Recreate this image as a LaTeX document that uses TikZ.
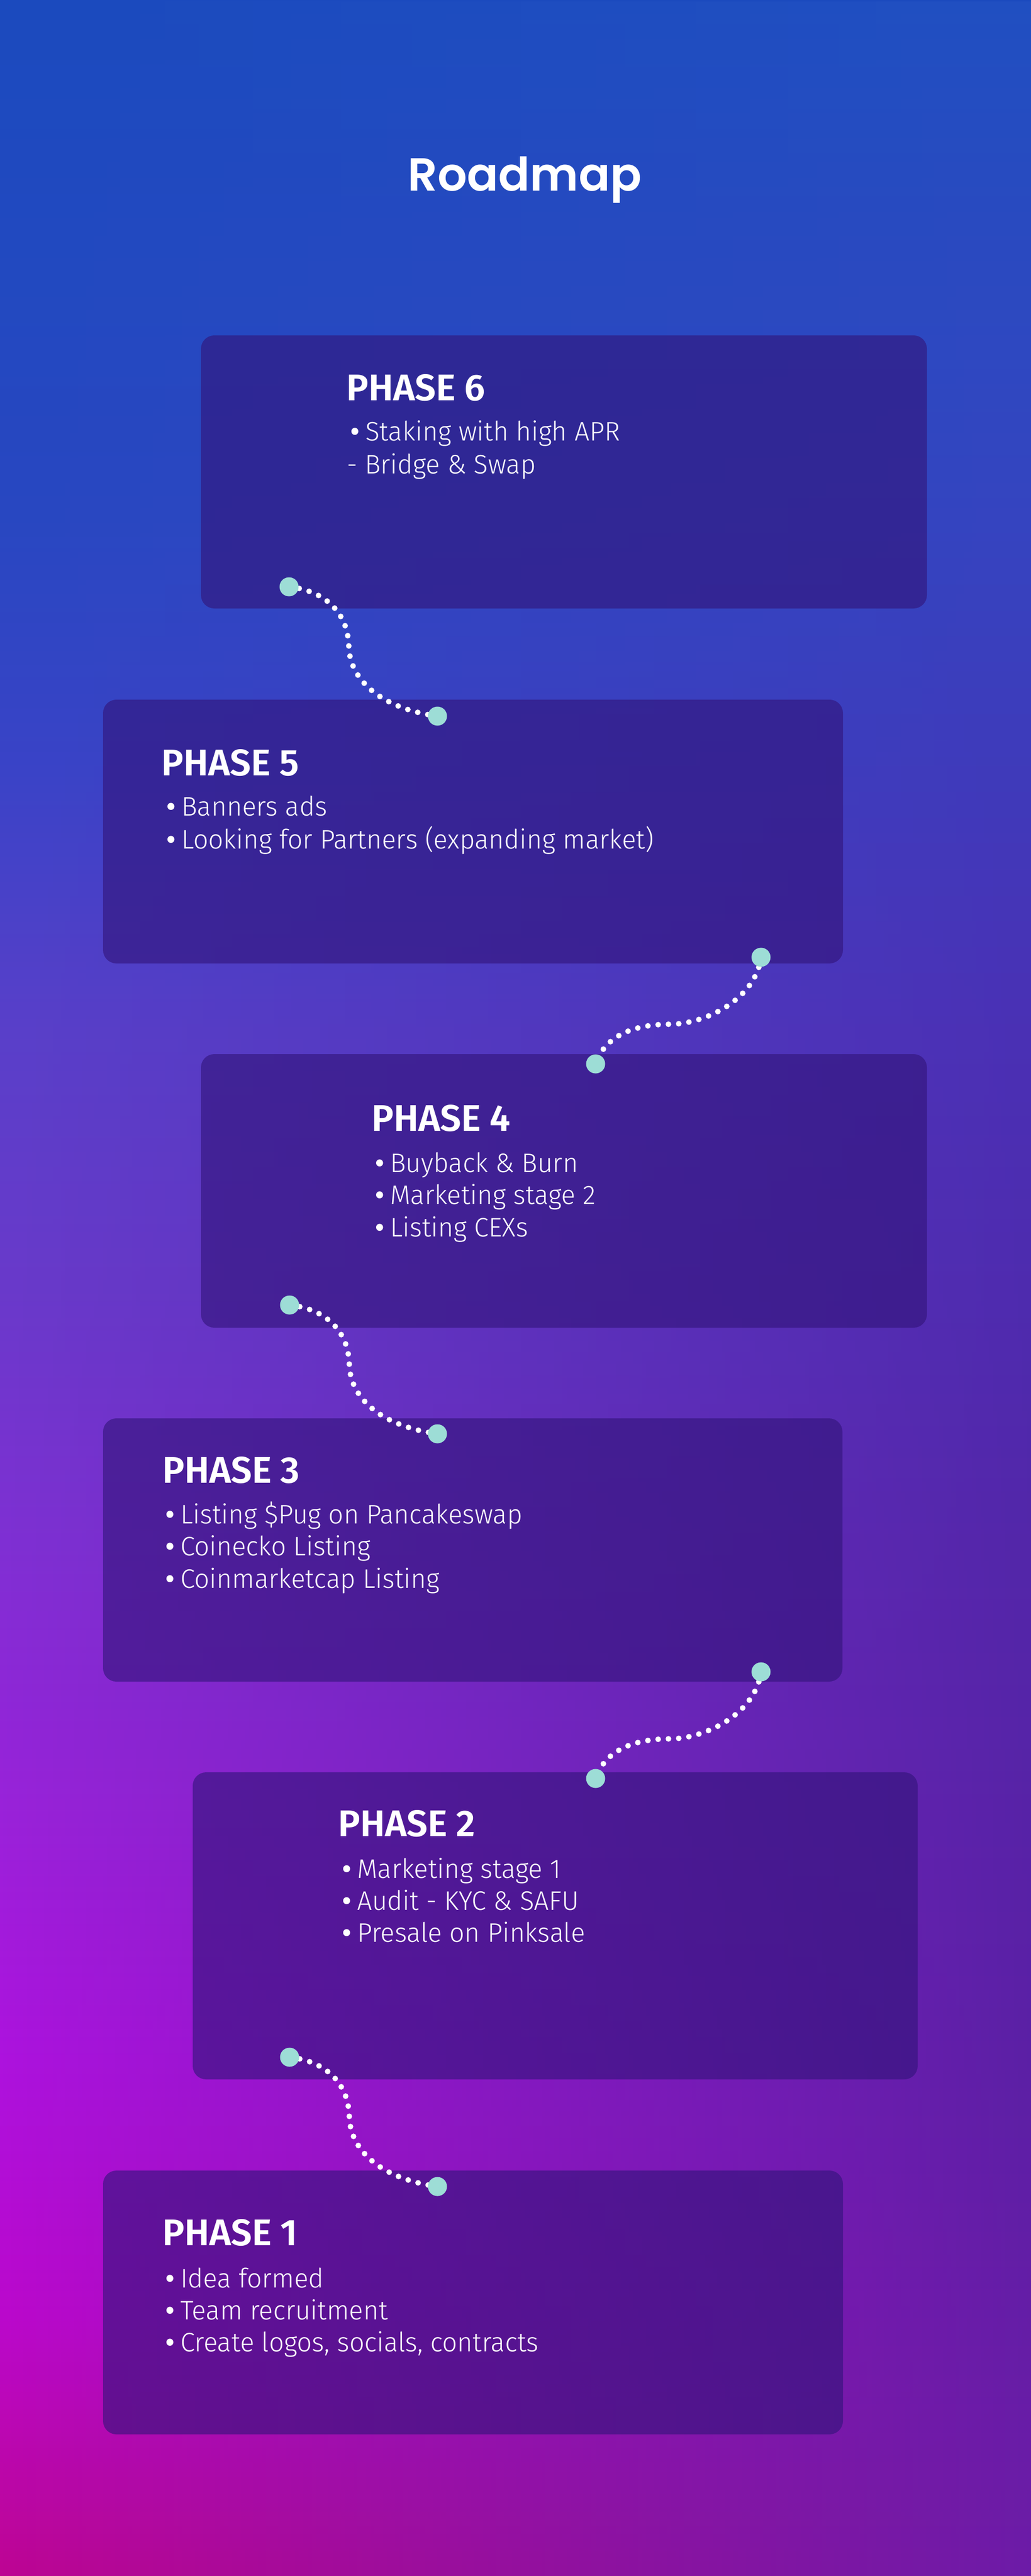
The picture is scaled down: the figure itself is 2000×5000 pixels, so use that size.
\documentclass[tikz,border=0pt]{standalone}
\usepackage{fontspec}
\setmainfont{Fira Sans}[UprightFont={* Light}, BoldFont={* SemiBold}]
\newfontfamily\itemfont{Fira Sans Light}[FakeStretch=0.985]
\newfontfamily\titlefont{Poppins}[BoldFont={* SemiBold}]
\usetikzlibrary{fadings}
\definecolor{boxc}{RGB}{50,20,122}
\definecolor{tealdot}{HTML}{9DDDD6}
% left edge colours
\definecolor{La}{HTML}{1B4ABE}
\definecolor{Lb}{HTML}{2848C2}
\definecolor{Lc}{HTML}{3A44C8}
\definecolor{Ld}{HTML}{5A40CA}
\definecolor{Le}{HTML}{6A3ACB}
\definecolor{Lf}{HTML}{8030D4}
\definecolor{Lg}{HTML}{9A22DA}
\definecolor{Lh}{HTML}{AE12DE}
\definecolor{Li}{HTML}{BC08CC}
\definecolor{Lj}{HTML}{BE0592}
% right edge colours
\definecolor{Ra}{HTML}{2150C2}
\definecolor{Rb}{HTML}{3644C0}
\definecolor{Rc}{HTML}{4A30B4}
\definecolor{Rd}{HTML}{5226A8}
\definecolor{Re}{HTML}{5A20A4}
\definecolor{Rf}{HTML}{6C1CA8}
\pgfdeclareverticalshading{bgleft}{100bp}{color(0bp)=(Lj); color(25bp)=(Lj); color(30bp)=(Li); color(35bp)=(Lh); color(40bp)=(Lg); color(45bp)=(Lf); color(50bp)=(Le); color(55bp)=(Ld); color(60bp)=(Lc); color(65bp)=(Lb); color(75bp)=(La); color(100bp)=(La)}
\pgfdeclareverticalshading{bgright}{100bp}{color(0bp)=(Rf); color(25bp)=(Rf); color(35bp)=(Re); color(45bp)=(Rd); color(55bp)=(Rc); color(65bp)=(Rb); color(75bp)=(Ra); color(100bp)=(Ra)}
\tikzfading[name=fadeR, left color=transparent!100, right color=transparent!0]
\pgfdeclarelayer{bglayer}
\pgfdeclarelayer{midlayer}
\pgfsetlayers{bglayer,midlayer,main}
\tikzset{
  phasebox/.style={fill=boxc, fill opacity=0.61, rounded corners=26pt, inner sep=0pt, outer sep=0pt, draw=none},
  tdot/.style={circle, fill=tealdot, minimum size=37pt, inner sep=0pt, draw=none},
  dotline/.style={draw=white, line width=11pt, line cap=round, dash pattern=on 0pt off 20pt},
  head/.style={anchor=base west, inner sep=0pt, text=white, font=\bfseries\fontsize{72}{72}\selectfont},
  item/.style={anchor=base west, inner sep=0pt, text=white, font=\itemfont\fontsize{52}{52}\selectfont},
  ttl/.style={anchor=base, inner sep=0pt, text=white, font=\titlefont\bfseries\fontsize{90}{90}\selectfont}
}
\newcommand{\bul}{\makebox[29pt][l]{\bfseries •}}
\newcommand{\dsh}{\makebox[35pt][l]{-}}
\begin{document}
\begin{tikzpicture}[x=1pt,y=-1pt]
\useasboundingbox (0,0) rectangle (2000,5000);
\begin{pgfonlayer}{bglayer}
\shade[shading=bgleft] (-20,0) rectangle (2020,5000);
\shade[shading=bgright, path fading=fadeR] (-20,-20) rectangle (2040,5020);
\node[phasebox, minimum width=1409pt, minimum height=530pt] (b6) at (1094.5,916) {};
\node[phasebox, minimum width=1436pt, minimum height=512pt] (b5) at (918,1614) {};
\node[phasebox, minimum width=1409pt, minimum height=531pt] (b4) at (1094.5,2311.5) {};
\node[phasebox, minimum width=1435pt, minimum height=511pt] (b3) at (917.5,3008.5) {};
\node[phasebox, minimum width=1407pt, minimum height=596pt] (b2) at (1077.5,3738) {};
\node[phasebox, minimum width=1436pt, minimum height=512pt] (b1) at (918,4469) {};
\end{pgfonlayer}

\node[ttl] (title) at (1018.5,370) {Roadmap};

% teal dots
\node[tdot] (d6s) at (561,1139) {};
\node[tdot] (d5e) at (849,1390) {};
\node[tdot] (d5s) at (1477,1858) {};
\node[tdot] (d4e) at (1156,2065) {};
\node[tdot] (d4s) at (562,2533) {};
\node[tdot] (d3e) at (849,2783) {};
\node[tdot] (d3s) at (1477,3245) {};
\node[tdot] (d2e) at (1156,3452) {};
\node[tdot] (d2s) at (562,3993) {};
\node[tdot] (d1e) at (849,4244) {};

\begin{pgfonlayer}{midlayer}
\draw[dotline] (d6s.center) .. controls +(59,6) and +(-2,-75) .. ++(116,116) .. controls +(2,65) and +(-109,-15) .. (d5e.center);
\draw[dotline] (d4s.center) .. controls +(59,6) and +(-2,-75) .. ++(116,116) .. controls +(2,65) and +(-109,-15) .. (d3e.center);
\draw[dotline] (d2s.center) .. controls +(59,6) and +(-2,-75) .. ++(116,116) .. controls +(2,65) and +(-109,-15) .. (d1e.center);
\draw[dotline] (d5s.center) .. controls +(-10,80) and +(70,0) .. ++(-177,130) .. controls +(-60,0) and +(20,-60) .. (d4e.center);
\draw[dotline] (d3s.center) .. controls +(-10,80) and +(70,0) .. ++(-177,130) .. controls +(-60,0) and +(20,-60) .. (d2e.center);
\end{pgfonlayer}

% phase 6
\node[head] (h6) at (672,777) {PHASE 6};
\node[item] (i6a) at (680,855) {\bul Staking with high APR};
\node[item] (i6b) at (673,919) {\dsh Bridge \& Swap};
% phase 5
\node[head] (h5) at (313,1505) {PHASE 5};
\node[item] (i5a) at (323,1583) {\bul Banners ads};
\node[item] (i5b) at (323,1647) {\bul Looking for Partners (expanding market)};
% phase 4
\node[head] (h4) at (721,2195) {PHASE 4};
\node[item] (i4a) at (728,2275) {\bul Buyback \& Burn};
\node[item] (i4b) at (728,2337) {\bul Marketing stage 2};
\node[item] (i4c) at (728,2400) {\bul Listing CEXs};
% phase 3
\node[head] (h3) at (315,2878) {PHASE 3};
\node[item] (i3a) at (321,2957) {\bul Listing \$Pug on Pancakeswap};
\node[item] (i3b) at (321,3019) {\bul Coinecko Listing};
\node[item] (i3c) at (321,3082) {\bul Coinmarketcap Listing};
% phase 2
\node[head] (h2) at (656,3564) {PHASE 2};
\node[item] (i2a) at (664,3645) {\bul Marketing stage 1};
\node[item] (i2b) at (664,3707) {\bul Audit - KYC \& SAFU};
\node[item] (i2c) at (664,3769) {\bul Presale on Pinksale};
% phase 1
\node[head] (h1) at (315,4358) {PHASE 1};
\node[item] (i1a) at (321,4440) {\bul Idea formed};
\node[item] (i1b) at (321,4502) {\bul Team recruitment};
\node[item] (i1c) at (321,4564) {\bul Create logos, socials, contracts};
\end{tikzpicture}
\end{document}
